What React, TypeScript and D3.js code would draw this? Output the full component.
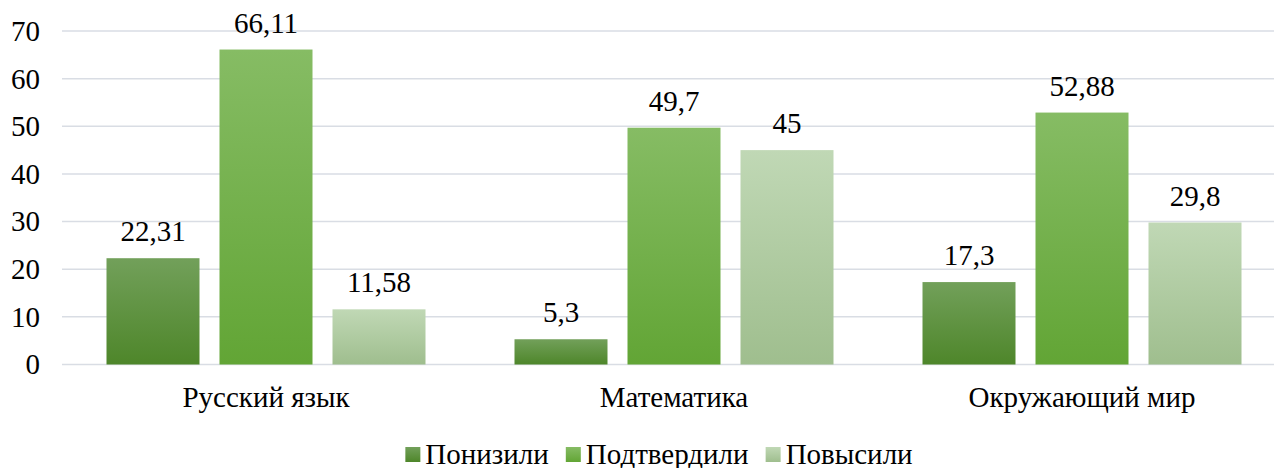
import React, { useLayoutEffect, useRef, useState } from "react";
import * as d3 from "d3";

const categories = ["Русский язык", "Математика", "Окружающий мир"];
const seriesNames = ["Понизили", "Подтвердили", "Повысили"];
const lowered = [22.31, 5.3, 17.3];
const confirmed = [66.11, 49.7, 52.88];
const raised = [11.58, 45, 29.8];
const yTicks = [0, 10, 20, 30, 40, 50, 60, 70];

const seriesValues = [lowered, confirmed, raised];
const gradients = [
  ["#72a05a", "#4e862a"],
  ["#86bc64", "#62a535"],
  ["#c0d8b5", "#9fbe8e"],
];

const W = 1274;
const H = 468;
const FONT = "Liberation Serif";
const FS = 29;

function fmt(v: number) {
  return String(v).replace(".", ",");
}

function T(props: any) {
  const { children, ...rest } = props;
  return (
    <text style={{ fontFamily: FONT, fontSize: FS }} {...rest}>
      {children}
    </text>
  );
}

export default function App() {
  const x0 = d3.scaleBand<string>().domain(categories).range([62, 1286]).paddingInner(0).paddingOuter(0);
  const bw = x0.bandwidth();
  const inner = 319;
  const pad = (bw - inner) / 2;
  const x1 = d3
    .scaleBand<number>()
    .domain([0, 1, 2])
    .range([pad, bw - pad])
    .paddingInner(20 / 113)
    .paddingOuter(0);
  const y = d3.scaleLinear().domain([0, 70]).range([364.5, 31]);

  const sq = 15;
  const gapText = 5;
  const gapItem = 17;
  const refs = useRef<(SVGTextElement | null)[]>([]);
  const [widths, setWidths] = useState<number[]>([121, 172, 144]);
  useLayoutEffect(() => {
    const w = refs.current.map((el, i) => (el ? el.getComputedTextLength() : widths[i]));
    if (w.some((v, i) => Math.abs(v - widths[i]) > 0.5)) setWidths(w);
  }, []);
  const total = widths.reduce((a, w) => a + sq + gapText + w, 0) + gapItem * (seriesNames.length - 1);
  let lx = 659 - total / 2;
  const legendItems = seriesNames.map((s, i) => {
    const item = { x: lx, name: s, i };
    lx += sq + gapText + widths[i] + gapItem;
    return item;
  });

  return (
    <div style={{ position: "absolute", left: 0, top: 0, fontFamily: FONT }}>
      <svg width={W} height={H} fontFamily={FONT} style={{ fontFamily: FONT, display: "block" }}>
        <defs>
          {gradients.map((g, i) => (
            <linearGradient key={i} id={`g${i}`} x1="0" y1="0" x2="0" y2="1">
              <stop offset="0%" stopColor={g[0]} />
              <stop offset="100%" stopColor={g[1]} />
            </linearGradient>
          ))}
        </defs>
        {yTicks.map((t) => (
          <g key={t}>
            <line x1={62} x2={W} y1={y(t)} y2={y(t)} stroke="#d9dde4" strokeWidth={1.5} />
            <T x={40} y={y(t)} dy="0.34em" textAnchor="end">
              {t}
            </T>
          </g>
        ))}
        {categories.map((c, ci) => (
          <g key={c} transform={`translate(${x0(c)},0)`}>
            {seriesValues.map((vals, si) => {
              const v = vals[ci];
              const bx = x1(si)!;
              return (
                <g key={si}>
                  <rect x={bx} y={y(v)} width={x1.bandwidth()} height={y(0) - y(v)} fill={`url(#g${si})`} />
                  <T x={bx + x1.bandwidth() / 2} y={y(v) - 17} textAnchor="middle">
                    {fmt(v)}
                  </T>
                </g>
              );
            })}
            <T x={bw / 2} y={407} textAnchor="middle">
              {c}
            </T>
          </g>
        ))}
        {legendItems.map((it) => (
          <g key={it.name}>
            <rect x={it.x} y={447} width={sq} height={sq} fill={`url(#g${it.i})`} />
            <text
              ref={(el) => {
                refs.current[it.i] = el;
              }}
              x={it.x + sq + gapText}
              y={464}
              style={{ fontFamily: FONT, fontSize: FS }}
            >
              {it.name}
            </text>
          </g>
        ))}
      </svg>
    </div>
  );
}
